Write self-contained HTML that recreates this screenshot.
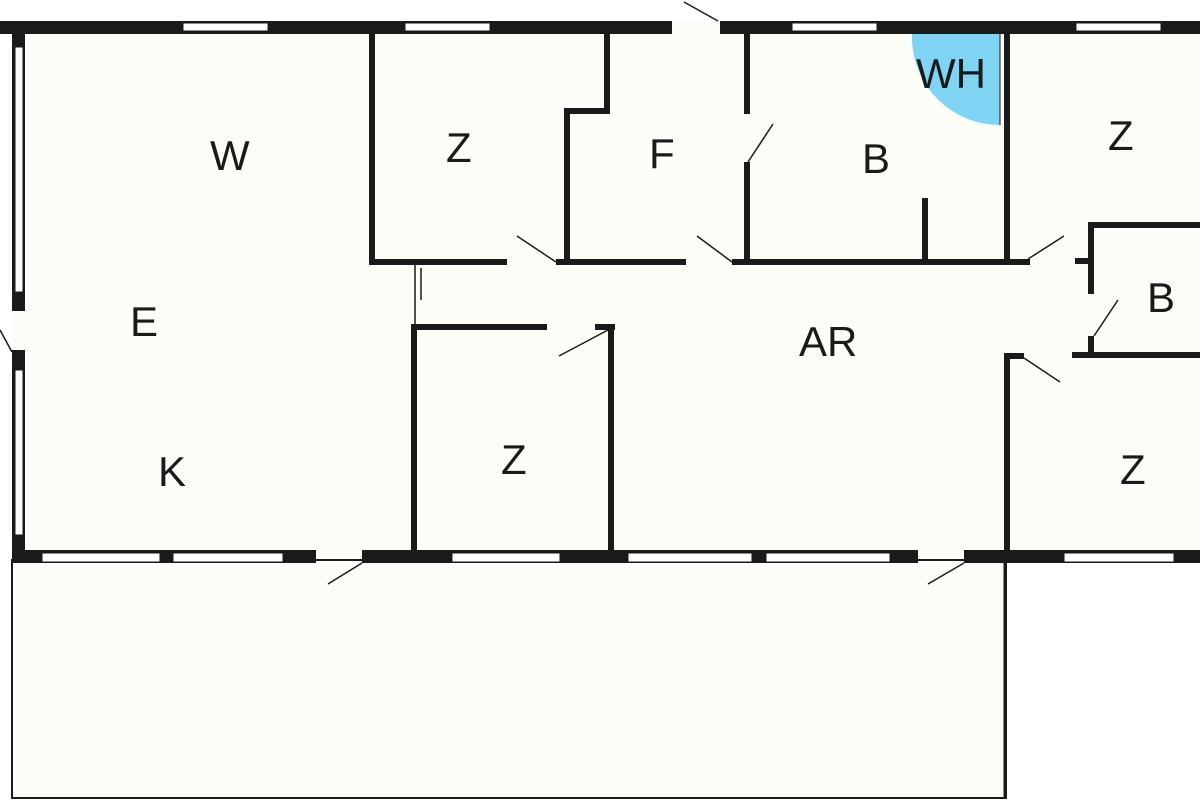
<!DOCTYPE html>
<html><head><style>body{margin:0;background:#fff}svg{display:block}text{font-family:"Liberation Sans",sans-serif;font-size:42px;fill:#1a1a1a}</style></head><body>
<svg width="1200" height="800" viewBox="0 0 1200 800">
<rect x="0" y="0" width="1200" height="800" fill="#fff"/>
<rect x="12" y="21" width="1188" height="542" fill="#fdfdf8"/>
<rect x="12" y="560" width="994" height="238" fill="#fdfdf8" stroke="#1a1a1a" stroke-width="2"/>
<path d="M1005 560V798" stroke="#1a1a1a" stroke-width="3"/>
<g fill="#1a1a1a">
<!-- outer top wall -->
<rect x="0" y="21" width="672" height="13"/>
<rect x="720" y="21" width="480" height="13"/>
<!-- left wall -->
<rect x="12" y="21" width="13" height="290"/>
<rect x="12" y="350" width="13" height="213"/>
<!-- bottom wall -->
<rect x="12" y="550" width="304" height="13"/>
<rect x="362" y="550" width="556" height="13"/>
<rect x="964" y="550" width="236" height="13"/>
<!-- interior walls -->
<rect x="369" y="34" width="6" height="231"/>
<rect x="369" y="259" width="138" height="6"/>
<rect x="564" y="108" width="6" height="157"/>
<rect x="564" y="108" width="46" height="6"/>
<rect x="604" y="34" width="6" height="80"/>
<rect x="556" y="259" width="130" height="6"/>
<rect x="744" y="34" width="6" height="80"/>
<rect x="744" y="162" width="6" height="103"/>
<rect x="732" y="259" width="298" height="6"/>
<rect x="922" y="198" width="6" height="64"/>
<rect x="1004" y="34" width="6" height="231"/>
<rect x="1088" y="222" width="112" height="6"/>
<rect x="1088" y="222" width="6" height="72"/>
<rect x="1088" y="336" width="6" height="22"/>
<rect x="1072" y="352" width="128" height="6"/>
<rect x="1075" y="258" width="14" height="6"/>
<rect x="411" y="324" width="6" height="230"/>
<rect x="411" y="324" width="136" height="6"/>
<rect x="595" y="324" width="20" height="6"/>
<rect x="608" y="324" width="6" height="230"/>
<rect x="1004" y="353" width="6" height="200"/>
<rect x="1004" y="353" width="20" height="6"/>
</g>
<g fill="#fff" stroke="#1a1a1a" stroke-width="1">
<rect x="183" y="23" width="85" height="8"/>
<rect x="405" y="23" width="85" height="8"/>
<rect x="792" y="23" width="85" height="8"/>
<rect x="1076" y="23" width="85" height="8"/>
<rect x="15" y="47" width="8" height="245"/>
<rect x="15" y="370" width="8" height="165"/>
<rect x="42" y="553" width="118" height="9"/>
<rect x="173" y="553" width="110" height="9"/>
<rect x="452" y="553" width="108" height="9"/>
<rect x="628" y="553" width="124" height="9"/>
<rect x="766" y="553" width="124" height="9"/>
<rect x="1064" y="553" width="110" height="9"/>
</g>
<g stroke="#1a1a1a" stroke-width="1.5" fill="none">
<path d="M684 2L718 21"/>
<path d="M328 584L362 563"/>
<path d="M928 584L964 563"/>
<path d="M517 236L556 262"/>
<path d="M697 236L732 262"/>
<path d="M748 162L773 124"/>
<path d="M1028 259L1064 236"/>
<path d="M1094 336L1118 300"/>
<path d="M1024 358L1060 382"/>
<path d="M559 356L608 330"/>
<path d="M0 330L12 352"/>
<path d="M415 265V324M421 268V300"/>
</g>
<path d="M912 34H1000V125A88 88 0 0 1 912 34Z" fill="#7fd3f3"/>
<path d="M1000 34V125" stroke="#1a1a1a" stroke-width="1"/>
<text x="210" y="170">W</text>
<text x="130" y="336">E</text>
<text x="158" y="486">K</text>
<text x="446" y="162">Z</text>
<text x="649" y="168">F</text>
<text x="862" y="173">B</text>
<text x="916" y="88">WH</text>
<text x="1108" y="150">Z</text>
<text x="1147" y="312">B</text>
<text x="799" y="356">AR</text>
<text x="501" y="474">Z</text>
<text x="1120" y="484">Z</text>
</svg>
</body></html>
